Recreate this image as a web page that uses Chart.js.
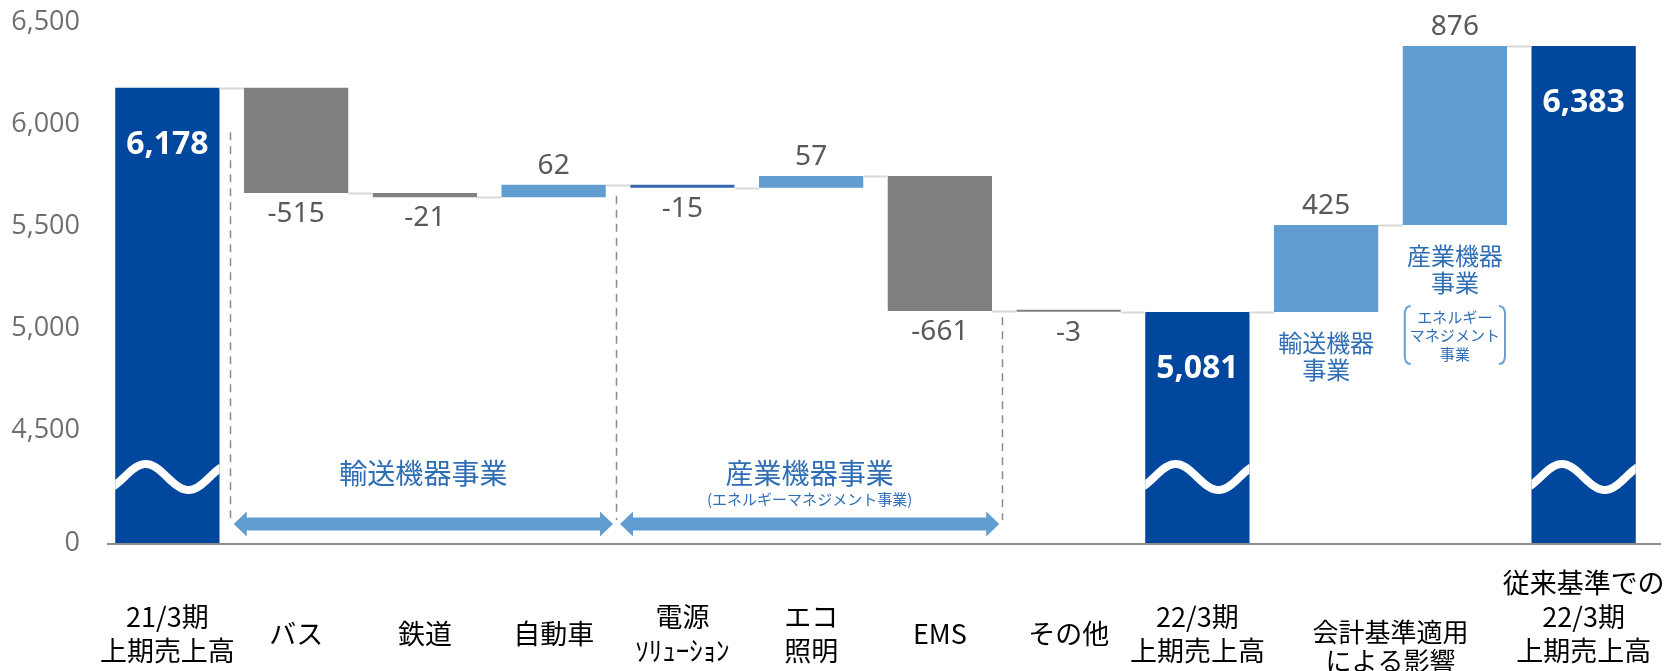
<!DOCTYPE html>
<html>
<head>
<meta charset="utf-8">
<script src="https://cdn.jsdelivr.net/npm/chart.js@4.4.1/dist/chart.umd.min.js"></script>
<style>
    html, body { margin: 0; padding: 0; background: #fff; }
</style>
</head>
<body>
<canvas id="salesChart" width="1675" height="671"></canvas>
<script>
// categories (the 10th/11th share one axis caption drawn below)
const categories = [
    ['21/3期', '上期売上高'], 'バス', '鉄道', '自動車', ['電源', 'ｿﾘｭｰｼｮﾝ'], ['エコ', '照明'],
    'EMS', 'その他', ['22/3期', '上期売上高'], '', '', ['従来基準での', '22/3期', '上期売上高', '']
];
const values = [6178, -515, -21, 62, -15, 57, -661, -3, 5081, 425, 876, 6383];
const isTotal = [true, false, false, false, false, false, false, false, true, false, false, true];

// broken axis: the bottom tick is labelled 0
const axisBase = 3950;
const axisTop = 6500;
const yTickValues = [3950, 4500, 5000, 5500, 6000, 6500];
const yTickLabels = ['0', '4,500', '5,000', '5,500', '6,000', '6,500'];

const groupNames = ['輸送機器事業', '産業機器事業'];
const groupNotes = ['', '(エネルギーマネジメント事業)'];
const groupSpans = [[1, 3], [4, 6]];
const adjustNames = [['輸送機器', '事業'], ['産業機器', '事業']];
const adjustNote = ['エネルギー', 'マネジメント', '事業'];
const adjustCaption = ['会計基準適用', 'による影響'];

const barColors = ['#00479D', '#808080', '#808080', '#629DD1', '#3467AE', '#629DD1',
    '#808080', '#808080', '#00479D', '#629DD1', '#629DD1', '#00479D'];

// floating ranges for the waterfall
let level = 0;
const ranges = values.map((v, i) => {
    if (isTotal[i]) { level = v; return [axisBase, v]; }
    const r = [level, level + v];
    level += v;
    return r;
});

const JP = '"Noto Sans CJK JP", "Noto Sans", sans-serif';
const BLUE_TEXT = '#2F6EB5';

const overlay = {
    id: 'overlay',
    afterDatasetsDraw(chart) {
        const { ctx, chartArea, scales: { x } } = chart;
        const bars = chart.getDatasetMeta(0).data;
        const bottom = chartArea.bottom;
        const edge = b => ({ l: b.x - b.width / 2, r: b.x + b.width / 2,
            t: Math.min(b.y, b.base), b: Math.max(b.y, b.base) });
        const boundary = i => (x.getPixelForValue(i) + x.getPixelForValue(i + 1)) / 2;

        ctx.save();

        // baseline a bit wider than the plot, like the original
        ctx.strokeStyle = '#8C8C8C';
        ctx.lineWidth = 2;
        ctx.beginPath();
        ctx.moveTo(chartArea.left + 4, bottom + 1);
        ctx.lineTo(chartArea.right + 13, bottom + 1);
        ctx.stroke();

        // connectors between bars
        ctx.strokeStyle = '#D9D9D9';
        ctx.lineWidth = 2;
        for (let i = 0; i < bars.length - 1; i++) {
            const a = edge(bars[i]), b = edge(bars[i + 1]);
            const yy = Math.round(chart.scales.y.getPixelForValue(ranges[i][1])) + 0.5;
            ctx.beginPath();
            ctx.moveTo(a.r, yy);
            ctx.lineTo(b.l, yy);
            ctx.stroke();
        }

        // wave breaks on total bars
        bars.forEach((bar, i) => {
            if (!isTotal[i]) return;
            const e = edge(bar), w = e.r - e.l, yc = bottom - 66;
            ctx.save();
            ctx.beginPath();
            ctx.rect(e.l, yc - 30, w, 60);
            ctx.clip();
            ctx.beginPath();
            for (let k = 0; k <= 60; k++) {
                const t = -0.02 + 1.04 * k / 60;
                const py = yc - 13 * Math.sin(2 * Math.PI * (t - 0.087) / 0.82);
                const px = e.l + t * w;
                k ? ctx.lineTo(px, py) : ctx.moveTo(px, py);
            }
            ctx.strokeStyle = '#fff';
            ctx.lineWidth = 8;
            ctx.stroke();
            ctx.restore();
        });

        // dashed separators
        const dashTops = [[0, 5960], [3, 5650], [6, 5055]];
        ctx.strokeStyle = '#8C8C8C';
        ctx.lineWidth = 1.5;
        ctx.setLineDash([8, 6]);
        dashTops.forEach(([i, v]) => {
            const bx = Math.round(boundary(i)) - 1.5;
            ctx.beginPath();
            ctx.moveTo(bx, chart.scales.y.getPixelForValue(v));
            ctx.lineTo(bx, bottom - 23);
            ctx.stroke();
        });
        ctx.setLineDash([]);

        // double arrows and group names
        const ay = bottom - 19;
        groupSpans.forEach(([s, e], g) => {
            const x1 = boundary(s - 1) + 2, x2 = boundary(e) - 5;
            const sh = 6.5, hh = 12.5, hl = 13;
            ctx.fillStyle = '#629DD1';
            ctx.beginPath();
            ctx.moveTo(x1, ay);
            ctx.lineTo(x1 + hl, ay - hh);
            ctx.lineTo(x1 + hl, ay - sh);
            ctx.lineTo(x2 - hl, ay - sh);
            ctx.lineTo(x2 - hl, ay - hh);
            ctx.lineTo(x2, ay);
            ctx.lineTo(x2 - hl, ay + hh);
            ctx.lineTo(x2 - hl, ay + sh);
            ctx.lineTo(x1 + hl, ay + sh);
            ctx.lineTo(x1 + hl, ay + hh);
            ctx.closePath();
            ctx.fill();

            const cx = (x1 + x2) / 2;
            ctx.fillStyle = BLUE_TEXT;
            ctx.textAlign = 'center';
            ctx.textBaseline = 'middle';
            ctx.font = '28px ' + JP;
            ctx.fillText(groupNames[g], cx, bottom - 70);
            if (groupNotes[g]) {
                ctx.font = '15px ' + JP;
                ctx.fillText(groupNotes[g], cx, bottom - 44);
            }
        });

        // adjustment labels under the two accounting bars
        [9, 10].forEach((i, k) => {
            const e = edge(bars[i]);
            ctx.fillStyle = BLUE_TEXT;
            ctx.font = '24px ' + JP;
            adjustNames[k].forEach((line, j) => ctx.fillText(line, bars[i].x, e.b + 31 + j * 27));
        });

        // bracketed note under bar 10
        const nb = edge(bars[10]);
        const bt = nb.b + 81, bb = nb.b + 139;
        ctx.strokeStyle = '#6A9FD4';
        ctx.lineWidth = 2;
        [[nb.l + 2, 1], [nb.r - 2, -1]].forEach(([bx, dir]) => {
            ctx.beginPath();
            ctx.moveTo(bx + dir * 6, bt);
            ctx.quadraticCurveTo(bx, bt, bx, bt + 9);
            ctx.lineTo(bx, bb - 9);
            ctx.quadraticCurveTo(bx, bb, bx + dir * 6, bb);
            ctx.stroke();
        });
        ctx.fillStyle = BLUE_TEXT;
        ctx.font = '15px ' + JP;
        adjustNote.forEach((line, j) => ctx.fillText(line, bars[10].x, bt + 11 + j * 18.5));

        // combined axis caption for the two accounting bars
        const capX = (x.getPixelForValue(9) + x.getPixelForValue(10)) / 2;
        ctx.fillStyle = '#000';
        ctx.font = '26px ' + JP;
        adjustCaption.forEach((line, j) => ctx.fillText(line, capX, x.top + 89 + j * 29));

        // value labels
        bars.forEach((bar, i) => {
            const e = edge(bar);
            if (isTotal[i]) {
                ctx.fillStyle = '#fff';
                ctx.font = 'bold 32px "Noto Sans", sans-serif';
                ctx.fillText(values[i].toLocaleString('en-US'), bar.x, e.t + 57);
            } else {
                ctx.fillStyle = '#595959';
                ctx.font = '28px "Noto Sans", sans-serif';
                const ty = values[i] < 0 ? e.b + 21 : e.t - 19;
                ctx.fillText(String(values[i]), bar.x, ty);
            }
        });

        ctx.restore();
    }
};

new Chart(document.getElementById('salesChart').getContext('2d'), {
    type: 'bar',
    data: {
        labels: categories,
        datasets: [{
            data: ranges,
            backgroundColor: barColors,
            borderWidth: 0,
            minBarLength: 2,
            barPercentage: 1,
            categoryPercentage: 0.81
        }]
    },
    options: {
        responsive: false,
        animation: false,
        layout: { padding: { top: 22, right: 27, left: 0, bottom: 0 } },
        plugins: { legend: { display: false }, tooltip: { enabled: false } },
        scales: {
            x: {
                grid: { display: false, drawTicks: false },
                border: { display: false },
                afterFit: s => { s.height = 128; s.paddingLeft = 0; s.paddingRight = 0; },
                ticks: {
                    autoSkip: false,
                    maxRotation: 0,
                    minRotation: 0,
                    crossAlign: 'center',
                    padding: 40,
                    color: '#000',
                    font: { family: JP, size: 27, lineHeight: 1.26 }
                }
            },
            y: {
                min: axisBase,
                max: axisTop,
                afterBuildTicks: s => { s.ticks = yTickValues.map(v => ({ value: v })); },
                afterFit: s => { s.width = 103; s.paddingTop = 0; s.paddingBottom = 0; },
                grid: { display: false, drawTicks: false },
                border: { display: false },
                ticks: {
                    padding: 23,
                    color: '#6F6F6F',
                    font: { family: '"Open Sans", sans-serif', size: 27 },
                    callback: (v, i) => yTickLabels[i]
                }
            }
        }
    },
    plugins: [overlay]
});
</script>
</body>
</html>
